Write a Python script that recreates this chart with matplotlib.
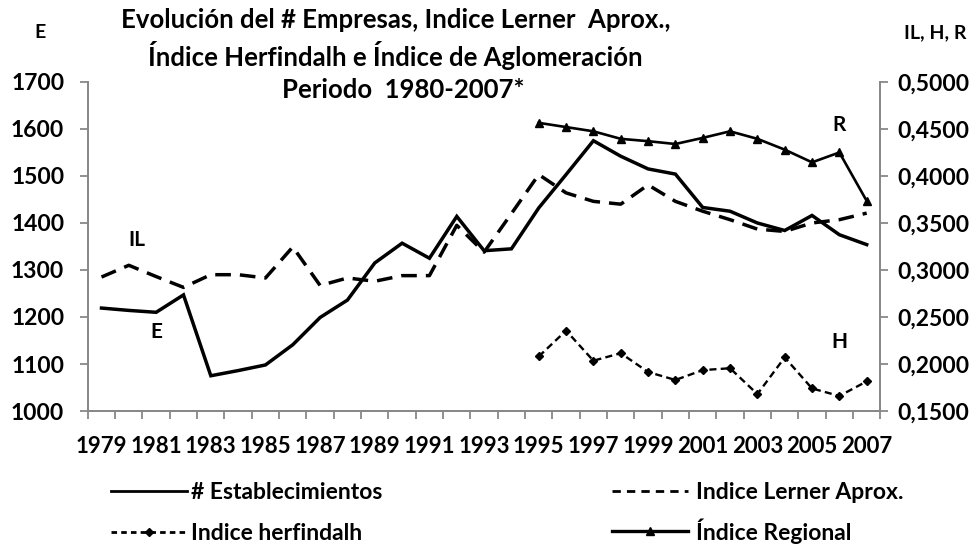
import numpy as np
import matplotlib.pyplot as plt
from matplotlib.lines import Line2D
from matplotlib.ticker import FuncFormatter

# Data
years = list(range(1979, 2008))
establecimientos = [1219, 1214, 1210, 1247, 1075, 1086, 1098, 1141, 1199, 1236,
                    1315, 1357, 1325, 1414, 1341, 1345, 1432, 1503, 1575, 1542,
                    1515, 1504, 1433, 1425, 1400, 1384, 1416, 1375, 1354]
lerner = [0.2925, 0.305, 0.293, 0.2815, 0.295, 0.295, 0.2915, 0.3245, 0.2835, 0.2915,
          0.288, 0.294, 0.294, 0.3475, 0.319, 0.360, 0.4015, 0.382, 0.373, 0.370,
          0.3905, 0.373, 0.3625, 0.3535, 0.3435, 0.341, 0.350, 0.3535, 0.3605]
herf_years = list(range(1995, 2008))
herfindalh = [0.208, 0.2355, 0.2035, 0.2115, 0.1915, 0.183, 0.1935, 0.1955, 0.168,
              0.207, 0.174, 0.166, 0.1815]
regional = [0.4565, 0.452, 0.4475, 0.4395, 0.437, 0.434, 0.4405, 0.4475, 0.4395,
            0.428, 0.4145, 0.425, 0.3735]

plt.rcParams['font.family'] = ['Lato', 'DejaVu Sans']
plt.rcParams['font.weight'] = 'bold'

x = np.arange(len(years))
xh = np.array([years.index(y) for y in herf_years])

fig = plt.figure(figsize=(9.76, 5.5), dpi=100)
ax = fig.add_axes([0.090, 0.2527, 0.812, 0.5983])
ax2 = ax.twinx()

ax.plot(x, establecimientos, color='black', lw=2.5, solid_joinstyle='miter')
ax2.plot(x, lerner, color='black', lw=2.5, dashes=(4.5, 2.6))
ax2.plot(xh, herfindalh, color='black', lw=1.7, dashes=(3, 1.8),
         marker='D', ms=4.5)
ax2.plot(xh, regional, color='black', lw=1.9, marker='^', ms=6)

ax.set_xlim(-0.5, len(years) - 0.5)
ax.set_ylim(1000, 1700)
ax.set_yticks(range(1000, 1701, 100))
ax2.set_ylim(0.15, 0.5)
ax2.set_yticks(np.arange(0.15, 0.5001, 0.05))
ax2.yaxis.set_major_formatter(FuncFormatter(lambda v, p: f"{v:.4f}".replace('.', ',')))

ax.set_xticks(x[::2])
ax.set_xticklabels([str(y) for y in years[::2]], fontsize=16)
ax.set_xticks(np.arange(-0.5, len(years)), minor=True)
ax.tick_params(axis='x', which='major', length=0, pad=18)
ax.tick_params(axis='x', which='minor', length=6, color='#888888', width=1.3)
ax.tick_params(axis='y', length=6, color='#888888', width=1.3, labelsize=16.5, pad=11)
ax2.tick_params(axis='y', length=6, color='#888888', width=1.3, labelsize=16.5, pad=6)

for a in (ax, ax2):
    a.spines['top'].set_visible(False)
    for s in ('left', 'right', 'bottom'):
        a.spines[s].set_color('#888888')
        a.spines[s].set_linewidth(1.3)

# series labels
ax.text(2, 1168, 'E', fontsize=15, ha='center', va='center')
ax.text(1.3, 1364, 'IL', fontsize=15, ha='center', va='center')
ax.text(27, 1609, 'R', fontsize=15, ha='center', va='center')
ax.text(27, 1147, 'H', fontsize=15, ha='center', va='center')

# titles and axis names
fig.text(0.405, 0.963, 'Evolución del # Empresas, Indice Lerner  Aprox.,',
         fontsize=18.5, ha='center', va='center')
fig.text(0.405, 0.900, 'Índice Herfindalh e Índice de Aglomeración',
         fontsize=18.5, ha='center', va='center')
fig.text(0.413, 0.837, 'Periodo  1980-2007*', fontsize=18.5, ha='center', va='center')
fig.text(0.041, 0.94, 'E', fontsize=14, ha='center', va='center')
fig.text(0.958, 0.94, 'IL, H, R', fontsize=14, ha='center', va='center')

# legend in two columns
h_e = Line2D([], [], color='black', lw=2)
h_il = Line2D([], [], color='black', lw=2, dashes=(3, 2.2))
h_h = Line2D([], [], color='black', lw=2, dashes=(2, 1.5), marker='D', ms=4)
h_r = Line2D([], [], color='black', lw=2.4, marker='^', ms=6)
leg1 = fig.legend([h_e, h_h], ['# Establecimientos', 'Indice herfindalh'],
                  loc='upper left', bbox_to_anchor=(0.114, 0.123), frameon=False,
                  fontsize=16.5, handlelength=3.3, handletextpad=0.2, labelspacing=0.86,
                  borderaxespad=0, borderpad=0)
leg2 = fig.legend([h_il, h_r], ['Indice Lerner Aprox.', 'Índice Regional'],
                  loc='upper left', bbox_to_anchor=(0.627, 0.123), frameon=False,
                  fontsize=16.5, handlelength=3.3, handletextpad=0.35, labelspacing=0.64,
                  borderaxespad=0, borderpad=0)

fig.savefig('out.png', dpi=100)
